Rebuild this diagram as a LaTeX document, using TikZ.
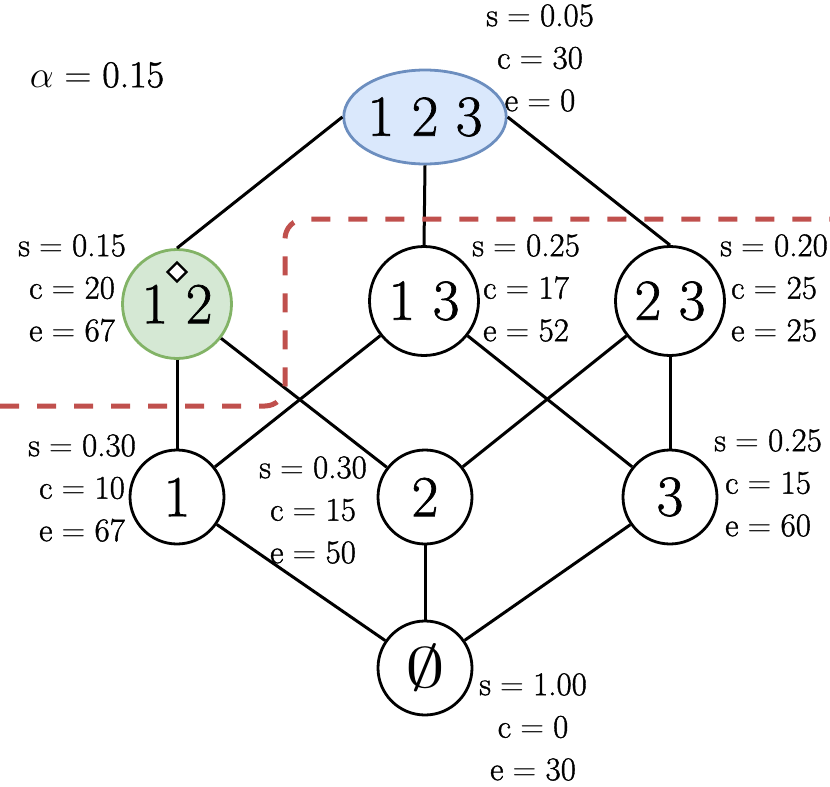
\RequirePackage{fix-cm}
\documentclass[tikz,border=0pt]{standalone}
\usepackage{graphicx}
\usepackage{fontspec}
\setmainfont{Latin Modern Roman}[FakeBold=1.2]
\usetikzlibrary{shapes.geometric}
\definecolor{dashred}{RGB}{192,80,77}
\definecolor{bluefill}{RGB}{218,232,252}
\definecolor{blueline}{RGB}{108,142,191}
\definecolor{greenfill}{RGB}{213,232,212}
\definecolor{greenline}{RGB}{130,179,102}
\newcommand{\eqsign}{${}={}$}
\begin{document}
\begin{tikzpicture}[x=1pt,y=-1pt,
 setnode/.style={circle, draw, line width=2.8pt, inner sep=0pt, fill=white, font=\fontsize{58}{60}\selectfont},
 bigset/.style={setnode, minimum size=109pt},
 smallset/.style={setnode, minimum size=94pt},
 lbl/.style={align=center, font=\fontsize{33}{42.5}\selectfont, inner sep=0pt},
 edge/.style={line width=3pt},
]
\useasboundingbox (0,0) rectangle (830,787);
% nodes
\node[ellipse, draw=blueline, fill=bluefill, line width=2.8pt, minimum width=155pt, minimum height=94pt, inner sep=0pt, font=\fontsize{58}{60}\selectfont] (n123) at (425,117) {1 2 3};
\node[bigset, draw=greenline, fill=greenfill] (n12) at (177,304) {1 2};
\node[bigset] (n13) at (424,301) {1 3};
\node[bigset] (n23) at (670,301) {2 3};
\node[smallset] (n1) at (177,497) {1};
\node[smallset] (n2) at (425,497) {2};
\node[smallset] (n3) at (670,497) {3};
\node[smallset, font=\fontsize{57}{60}\selectfont] (n0) at (425,668) {\scalebox{1.4}[1]{$\emptyset$}};
% edges
\draw[edge] (n123.west) -- (n12.north);
\draw[edge] (n123.south) -- (n13.north);
\draw[edge] (n123.east) -- (n23.north);
\draw[edge] (n12.south) -- (n1.north);
\draw[edge] (n12) -- (n2);
\draw[edge] (n13) -- (n1);
\draw[edge] (n13) -- (n3);
\draw[edge] (n23) -- (n2);
\draw[edge] (n23.south) -- (n3.north);
\draw[edge] (n1) -- (n0);
\draw[edge] (n2.south) -- (n0.north);
\draw[edge] (n3) -- (n0);
% marker
\node[diamond, draw, fill=white, line width=2.4pt, inner sep=0pt, minimum width=20pt, minimum height=20pt] (mark) at (177,272) {};
% dashed cut
\draw[dashred, line width=5pt, dash pattern=on 19pt off 18pt, rounded corners=20pt] (0,406) -- (285,406) -- (285,219) -- (830,219);
% labels
\node[lbl, font=\fontsize{38}{42}\selectfont] (alpha) at (97,75) {$\alpha$\eqsign 0.15};
\node[lbl] (l123) at (540,58) {s\eqsign 0.05\\c\eqsign 30\\e\eqsign 0};
\node[lbl] (l12) at (72,288) {s\eqsign 0.15\\c\eqsign 20\\e\eqsign 67};
\node[lbl] (l13) at (526,288) {s\eqsign 0.25\\c\eqsign 17\\e\eqsign 52};
\node[lbl] (l23) at (774,288) {s\eqsign 0.20\\c\eqsign 25\\e\eqsign 25};
\node[lbl] (l1) at (82,488) {s\eqsign 0.30\\c\eqsign 10\\e\eqsign 67};
\node[lbl] (l2) at (313,510) {s\eqsign 0.30\\c\eqsign 15\\e\eqsign 50};
\node[lbl] (l3) at (768,483) {s\eqsign 0.25\\c\eqsign 15\\e\eqsign 60};
\node[lbl] (l0) at (533,727) {s\eqsign 1.00\\c\eqsign 0\\e\eqsign 30};
\end{tikzpicture}
\end{document}
